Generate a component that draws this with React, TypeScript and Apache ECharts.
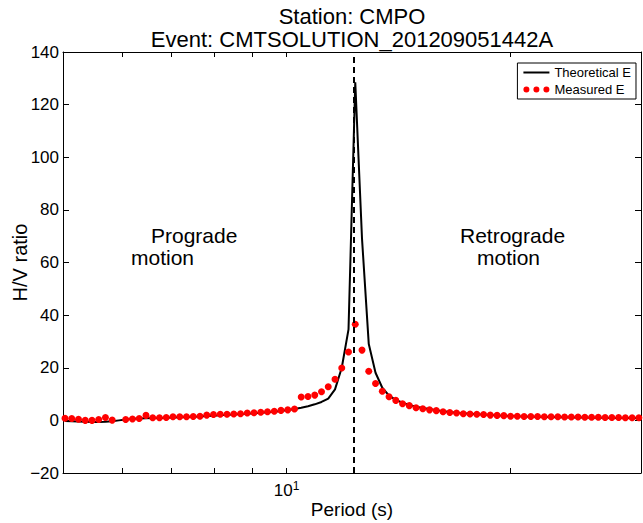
import React, { useEffect, useRef } from "react";
import * as echarts from "echarts";

// Period (s) of each sample
const periods = [
  5.031, 5.137, 5.246, 5.357, 5.47, 5.585, 5.703, 5.824, 5.947, 6.073,
  6.201, 6.332, 6.467, 6.603, 6.743, 6.886, 7.031, 7.18, 7.332, 7.487,
  7.645, 7.807, 7.972, 8.141, 8.313, 8.489, 8.669, 8.852, 9.039, 9.23,
  9.425, 9.625, 9.827, 10.035, 10.248, 10.464, 10.686, 10.912, 11.143, 11.378,
  11.619, 11.865, 12.116, 12.372, 12.634, 12.901, 13.174, 13.453, 13.738, 14.028,
  14.325, 14.628, 14.937, 15.253, 15.576, 15.905, 16.242, 16.585, 16.936, 17.294,
  17.66, 18.033, 18.415, 18.804, 19.202, 19.608, 20.023, 20.446, 20.879, 21.32,
  21.771, 22.232, 22.702, 23.182, 23.672, 24.173, 24.684, 25.206, 25.74, 26.284,
  26.84, 27.408, 27.987, 28.579, 29.184, 29.801,
];

// Theoretical E (H/V ratio)
const theoretical = [
  -0.2, -0.3, -0.4, -0.5, -0.6, -0.6, -0.5, -0.3, 0.0, 0.3,
  0.6, 0.7, 0.8, 0.9, 0.95, 1.0, 1.1, 1.2, 1.3, 1.4,
  1.5, 1.7, 1.8, 1.9, 2.1, 2.2, 2.4, 2.5, 2.7, 2.9,
  3.1, 3.3, 3.6, 3.9, 4.3, 4.8, 5.4, 6.1, 7.0, 8.3,
  11.8, 20.0, 34.6, 128.5, 69.0, 29.0, 18.1, 12.4, 9.4, 7.8,
  6.7, 5.9, 5.2, 4.7, 4.3, 3.9, 3.5, 3.2, 2.9, 2.7,
  2.5, 2.3, 2.2, 2.0, 1.9, 1.8, 1.7, 1.6, 1.5, 1.4,
  1.4, 1.3, 1.3, 1.2, 1.2, 1.1, 1.1, 1.1, 1.0, 1.0,
  1.0, 0.9, 0.9, 0.9, 0.9, 0.8,
];

// Measured E (H/V ratio), null = missing sample
const measured: (number | null)[] = [
  0.8, 0.7, 0.4, 0.0, 0.0, 0.3, 1.1, 0.1, null, 0.3,
  0.5, 0.7, 1.9, 1.0, 1.0, 1.1, 1.4, 1.4, 1.4, 1.5,
  1.6, 2.0, 2.2, 2.3, 2.3, 2.4, 2.5, 2.8, 2.9, 3.1,
  3.3, 3.5, 3.8, 4.0, 4.3, 8.9, 9.1, 9.6, 10.9, 12.8,
  15.6, 19.9, 26.0, 36.5, 26.7, 18.7, 14.0, 11.1, 9.0, 7.6,
  6.3, 5.6, 4.8, 4.4, 4.0, 3.7, 3.3, 3.0, 2.8, 2.5,
  2.4, 2.3, 2.2, 2.0, 1.9, 1.8, 1.6, 1.6, 1.5, 1.5,
  1.5, 1.4, 1.4, 1.4, 1.3, 1.3, 1.3, 1.2, 1.2, 1.2,
  1.1, 1.1, 1.1, 1.0, 1.0, 1.0,
];

const peakPeriod = 12.372;
const xRange = [5, 30];
const xTickPeriods = [6, 7, 8, 9, 10, 20, 30];
const xLabelPeriods = [10];
const yRange = [-20, 140];
const yStep = 20;

const FONT = "'Liberation Sans', Arial, Helvetica, sans-serif";
const lg = (v: number) => Math.log10(v);

export default function App() {
  const ref = useRef<HTMLDivElement>(null);

  useEffect(() => {
    if (!ref.current) return;
    const chart = echarts.init(ref.current, undefined, { renderer: "svg" });

    const lineData = periods.map((p, i) => [lg(p), theoretical[i]]);
    const dotData = periods
      .map((p, i) => (measured[i] === null ? null : [lg(p), measured[i] as number]))
      .filter((d) => d !== null);

    const axisLineStyle = { color: "#000", width: 1 };
    const xBase = {
      type: "value" as const,
      min: lg(xRange[0]),
      max: lg(xRange[1]),
      splitLine: { show: false },
      axisLine: { show: true, onZero: false, lineStyle: axisLineStyle },
      axisTick: {
        show: true,
        inside: true,
        length: 5,
        customValues: xTickPeriods.map(lg),
        lineStyle: axisLineStyle,
      },
    };
    const yBase = {
      type: "value" as const,
      min: yRange[0],
      max: yRange[1],
      interval: yStep,
      splitLine: { show: false },
      axisLine: { show: true, onZero: false, lineStyle: axisLineStyle },
      axisTick: { show: true, inside: true, length: 6, lineStyle: axisLineStyle },
    };

    const option: any = {
      animation: false,
      textStyle: { fontFamily: FONT, color: "#000" },
      title: {
        text: "Station: CMPO\nEvent: CMTSOLUTION_201209051442A",
        left: 352,
        top: 5,
        padding: 0,
        textAlign: "center",
        textStyle: {
          fontFamily: FONT,
          fontSize: 22,
          fontWeight: "normal",
          color: "#000",
          lineHeight: 23,
        },
      },
      legend: {
        orient: "vertical",
        right: 7,
        top: 63,
        padding: [3, 5, 3, 6],
        itemGap: 4,
        itemWidth: 26,
        itemHeight: 10,
        borderColor: "#000",
        borderWidth: 1,
        borderRadius: 0,
        textStyle: { fontFamily: FONT, fontSize: 13, color: "#000" },
        data: [
          { name: "Theoretical E", icon: "path://M0,0h26v2h-26z" },
          {
            name: "Measured E",
            icon:
              "path://M0,3a3,3 0 1,0 6,0a3,3 0 1,0 -6,0zM10,3a3,3 0 1,0 6,0a3,3 0 1,0 -6,0zM20,3a3,3 0 1,0 6,0a3,3 0 1,0 -6,0z",
          },
        ],
      },
      grid: {
        left: 63,
        right: 2,
        top: 52,
        bottom: 50,
        containLabel: false,
        outerBoundsMode: "none",
      },
      xAxis: [
        {
          ...xBase,
          position: "bottom",
          name: "Period (s)",
          nameLocation: "middle",
          nameGap: 27,
          nameMoveOverlap: false,
          nameTextStyle: { fontFamily: FONT, fontSize: 19, color: "#000" },
          axisLabel: {
            show: true,
            margin: 7,
            customValues: xLabelPeriods.map(lg),
            formatter: (v: number) => `{b|${Math.round(Math.pow(10, Math.floor(v + 1e-9)))}}{s|${Math.round(v)}}`,
            rich: {
              b: { fontFamily: FONT, fontSize: 17, color: "#000", lineHeight: 20 },
              s: { fontFamily: FONT, fontSize: 12, color: "#000", verticalAlign: "top", lineHeight: 12 },
            },
          },
        },
        {
          ...xBase,
          position: "top",
          axisLabel: { show: false },
        },
      ],
      yAxis: [
        {
          ...yBase,
          position: "left",
          name: "H/V ratio",
          nameLocation: "middle",
          nameGap: 33,
          nameMoveOverlap: false,
          nameTextStyle: { fontFamily: FONT, fontSize: 20, color: "#000" },
          axisLabel: {
            show: true,
            margin: 4,
            fontFamily: FONT,
            fontSize: 17,
            color: "#000",
            formatter: (v: number) => (v < 0 ? "\u2212" + Math.abs(v) : String(v)),
          },
        },
        {
          ...yBase,
          position: "right",
          axisLabel: { show: false },
        },
      ],
      series: [
        {
          name: "Theoretical E",
          type: "line",
          xAxisIndex: 0,
          yAxisIndex: 0,
          data: lineData,
          showSymbol: false,
          symbol: "none",
          lineStyle: { color: "#000", width: 2 },
          itemStyle: { color: "#000" },
          z: 2,
          markLine: {
            silent: true,
            symbol: ["none", "none"],
            label: { show: false },
            lineStyle: { color: "#000", width: 2, type: [6, 4] },
            data: [{ xAxis: lg(peakPeriod) }],
          },
        },
        {
          name: "Measured E",
          type: "scatter",
          xAxisIndex: 0,
          yAxisIndex: 0,
          data: dotData,
          symbol: "circle",
          symbolSize: 7,
          itemStyle: { color: "#ff0000", opacity: 1 },
          z: 3,
        },
      ],
      graphic: [
        { type: "text", x: 151, y: 235, style: { text: "Prograde", fontFamily: FONT, fontSize: 21, fill: "#000", textVerticalAlign: "middle" } },
        { type: "text", x: 131, y: 257, style: { text: "motion", fontFamily: FONT, fontSize: 21, fill: "#000", textVerticalAlign: "middle" } },
        { type: "text", x: 460, y: 235, style: { text: "Retrograde", fontFamily: FONT, fontSize: 21, fill: "#000", textVerticalAlign: "middle" } },
        { type: "text", x: 477, y: 257, style: { text: "motion", fontFamily: FONT, fontSize: 21, fill: "#000", textVerticalAlign: "middle" } },
      ],
    };

    chart.setOption(option);
    return () => chart.dispose();
  }, []);

  return (
    <div
      ref={ref}
      style={{ position: "fixed", left: 0, top: 0, width: 643, height: 523, background: "#fff" }}
    />
  );
}
